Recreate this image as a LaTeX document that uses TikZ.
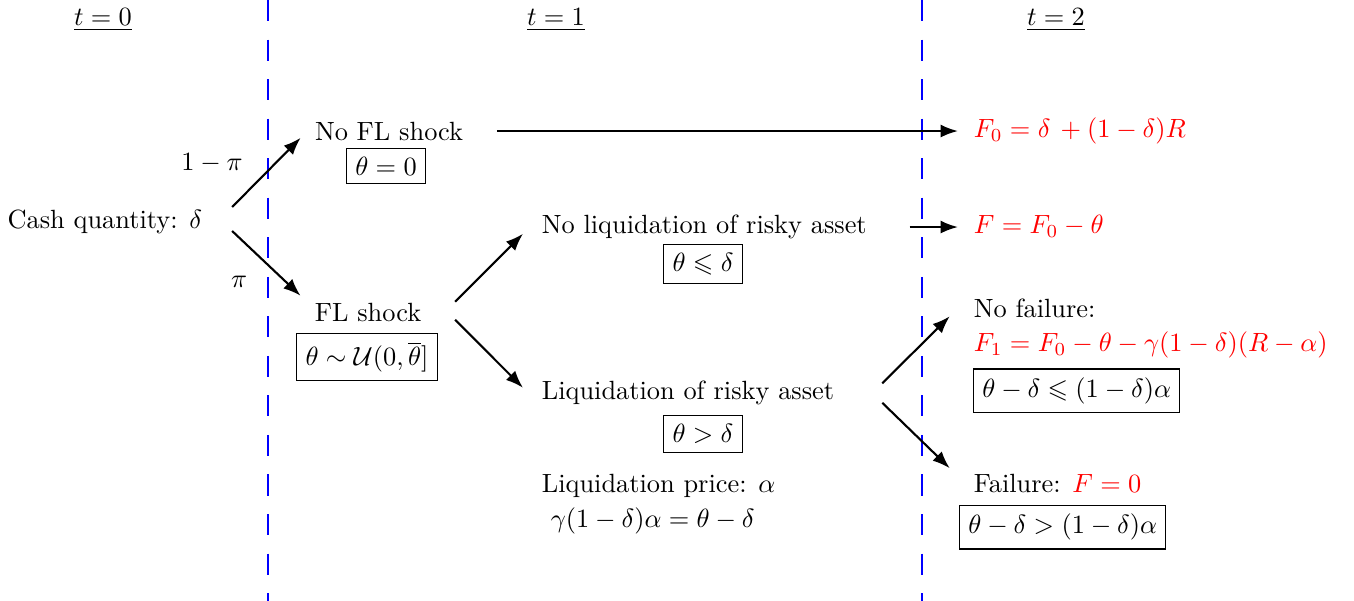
\documentclass[tikz,border=0pt]{standalone}
\usepackage{amsmath,amssymb}
\usepackage{tikz}
\usetikzlibrary{arrows.meta}

\begin{document}
\begin{tikzpicture}[>=Latex, thick,
    box/.style={draw, thin},
    pay/.style={text=red, anchor=west},
    divider/.style={blue, dash pattern=on 8pt off 7pt}]
  \useasboundingbox (0,0) rectangle (18.053,-8.013);
  % Time labels
  \node (t0) at (1.373,-0.267) {\underline{$t=0$}};
  \node (t1) at (7.413,-0.267) {\underline{$t=1$}};
  \node (t2) at (14.08,-0.267) {\underline{$t=2$}};
  % Period dividers
  \draw[divider] (3.573,0) -- (3.573,-8.013);
  \draw[divider] (12.293,0) -- (12.293,-8.013);
  % Initial state
  \node[anchor=west] (cash) at (-0.03,-2.96) {Cash quantity: $\delta$};
  \node (onemp) at (2.827,-2.173) {$1-\pi$};
  \node (pi) at (3.187,-3.76) {$\pi$};
  % No shock branch
  \node (nofl) at (5.187,-1.747) {No FL shock};
  \node[box] (noflbox) at (5.147,-2.213) {$\theta=0$};
  \node[pay] (F0) at (12.853,-1.747) {$F_0=\delta\,+(1-\delta)R$};
  % Shock branch
  \node (fl) at (4.907,-4.173) {FL shock};
  \node[box] (flbox) at (4.893,-4.76) {$\theta\sim\mathcal{U}(0,\overline{\theta}]$};
  % No liquidation
  \node[anchor=west] (noliq) at (7.093,-3.027) {No liquidation of risky asset};
  \node[box] (noliqbox) at (9.373,-3.52) {$\theta\leqslant\delta$};
  \node[pay] (Fth) at (12.853,-3.013) {$F=F_0-\theta$};
  % Liquidation
  \node[anchor=west] (liq) at (7.093,-5.24) {Liquidation of risky asset};
  \node[box] (liqbox) at (9.373,-5.787) {$\theta>\delta$};
  \node[anchor=west] (price) at (7.093,-6.48) {Liquidation price: $\alpha$};
  \node[anchor=west] (gam) at (7.213,-6.947) {$\gamma(1-\delta)\alpha=\theta-\delta$};
  % Outcomes after liquidation
  \node[anchor=west] (nofail) at (12.853,-4.107) {No failure:};
  \node[pay] (F1) at (12.853,-4.6) {$F_1=F_0-\theta-\gamma(1-\delta)(R-\alpha)$};
  \node[box, anchor=west] (nofailbox) at (12.973,-5.213) {$\theta-\delta\leqslant(1-\delta)\alpha$};
  \node[anchor=west] (fail) at (12.853,-6.453) {Failure: \textcolor{red}{$F=0$}};
  \node[box, anchor=west] (failbox) at (12.787,-7.027) {$\theta-\delta>(1-\delta)\alpha$};
  % Branches at t=0
  \draw[->] ([shift={(0.27,0.2)}]cash.east) -- ([shift={(-0.06,-0.09)}]nofl.west);
  \draw[->] ([shift={(0.27,-0.12)}]cash.east) -- ([shift={(-0.06,0.23)}]fl.west);
  % Branches at t=1
  \draw[->] ([xshift=0.32cm]nofl.east) -- ([xshift=-0.08cm]nofl.east -| F0.west);
  \draw[->] ([shift={(0.32,0.15)}]fl.east) -- ([shift={(-0.12,-0.09)}]noliq.west);
  \draw[->] ([shift={(0.32,-0.09)}]fl.east) -- ([shift={(-0.12,0.07)}]liq.west);
  % Branches at t=2
  \draw[->] ([xshift=0.44cm]noliq.east) -- ([xshift=-0.08cm]noliq.east -| Fth.west);
  \draw[->] ([shift={(0.51,0.13)}]liq.east) -- ([shift={(-0.19,-0.11)}]nofail.west);
  \draw[->] ([shift={(0.51,-0.13)}]liq.east) -- ([shift={(-0.19,0.21)}]fail.west);
\end{tikzpicture}
\end{document}
